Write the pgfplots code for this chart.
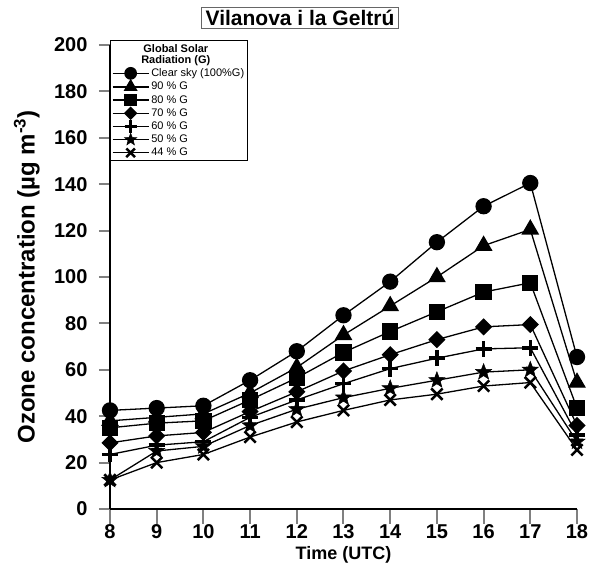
\documentclass[border=0pt]{standalone}
\usepackage{pgfplots}
\pgfplotsset{compat=1.18}
\usepackage{fontspec}
\setmainfont{Liberation Sans}
\pgfdeclareplotmark{fstar}{%
  \pgfpathmoveto{\pgfpointpolar{90}{\pgfplotmarksize}}%
  \pgfpathlineto{\pgfpointpolar{126}{0.42\pgfplotmarksize}}%
  \pgfpathlineto{\pgfpointpolar{162}{\pgfplotmarksize}}%
  \pgfpathlineto{\pgfpointpolar{198}{0.42\pgfplotmarksize}}%
  \pgfpathlineto{\pgfpointpolar{234}{\pgfplotmarksize}}%
  \pgfpathlineto{\pgfpointpolar{270}{0.42\pgfplotmarksize}}%
  \pgfpathlineto{\pgfpointpolar{306}{\pgfplotmarksize}}%
  \pgfpathlineto{\pgfpointpolar{342}{0.42\pgfplotmarksize}}%
  \pgfpathlineto{\pgfpointpolar{18}{\pgfplotmarksize}}%
  \pgfpathlineto{\pgfpointpolar{54}{0.42\pgfplotmarksize}}%
  \pgfpathclose\pgfusepathqfillstroke}
\begin{document}
\begin{tikzpicture}
\useasboundingbox (-110pt,-66pt) rectangle (480pt,509pt);
\begin{axis}[
  at={(0pt,0pt)}, anchor=south west,
  scale only axis, width=467pt, height=464pt,
  xmin=8, xmax=18, ymin=0, ymax=200,
  xtick={8,...,18}, ytick={0,20,...,200},
  axis x line*=bottom, axis y line*=left,
  axis line style={line width=2pt},
  tick align=outside,
  major tick length=11pt,
  x tick style={line width=2pt, /pgfplots/major tick length=15pt},
  y tick style={line width=2pt},
  /pgf/number format/assume math mode=true,
  ticklabel style={font=\bfseries\fontsize{20}{20}\selectfont},
  xticklabel style={yshift=-1pt},
  yticklabel style={xshift=-8pt},
  xlabel={Time (UTC)},
  ylabel={Ozone concentration (µg m\textsuperscript{-3})},
  xlabel style={font=\bfseries\fontsize{18}{18}\selectfont, at={(axis description cs:0.5,-0.099)}, anchor=center},
  ylabel style={font=\bfseries\fontsize{24}{24}\selectfont, at={(axis description cs:-0.178,0.5)}, anchor=center},
  every axis plot/.append style={black, line width=1.3pt, mark options={solid, fill=black}},
  legend style={at={(axis description cs:0,1.01)}, anchor=north west, draw=black, line width=1pt,
    font=\fontsize{11}{11}\selectfont, inner sep=1.5pt, row sep=0pt, fill=white},
  legend cell align=left,
  legend image code/.code={\draw[mark repeat=2, mark phase=2, line width=1.3pt, every mark/.append style={scale=0.76}] plot coordinates {(0pt,0pt) (18pt,0pt) (36pt,0pt)};},
]
\addlegendimage{empty legend}
\addlegendentry{\hspace*{-10pt}\bfseries\begin{tabular}[b]{@{}c@{}}Global Solar\\[-0.5pt]Radiation (G)\end{tabular}}
\addplot[mark=*, mark size=7.5pt] coordinates {(8,42.5) (9,43.5) (10,44.5) (11,55.5) (12,68) (13,83.5) (14,98) (15,115) (16,130.5) (17,140.5) (18,65.5)};
\addlegendentry{Clear sky (100\%G)}
\addplot[mark=triangle*, mark size=9pt] coordinates {(8,38) (9,39.5) (10,41) (11,50) (12,61) (13,75) (14,87.5) (15,100) (16,113.5) (17,120.5) (18,54.5)};
\addlegendentry{90 \% G}
\addplot[mark=square*, mark size=7.5pt] coordinates {(8,35) (9,37) (10,38) (11,47) (12,56.5) (13,67.5) (14,76.5) (15,85) (16,93.5) (17,97.5) (18,43.5)};
\addlegendentry{80 \% G}
\addplot[mark=square*, mark size=5.4pt, mark options={rotate=45}] coordinates {(8,28.5) (9,31.5) (10,33) (11,42) (12,50.5) (13,59.5) (14,66.5) (15,73) (16,78.5) (17,79.5) (18,36)};
\addlegendentry{70 \% G}
\addplot[mark=+, mark size=8pt, mark options={line width=3.5pt}] coordinates {(8,23.5) (9,27.5) (10,29) (11,39.5) (12,47) (13,54) (14,60.5) (15,65) (16,69) (17,69.5) (18,32)};
\addlegendentry{60 \% G}
\addplot[mark=fstar, mark size=8.5pt, mark options={line width=0.5pt}] coordinates {(8,12.5) (9,25) (10,27) (11,36) (12,43) (13,48) (14,52) (15,55.5) (16,59) (17,60) (18,29)};
\addlegendentry{50 \% G}
\addplot[mark=x, mark size=8pt, mark options={line width=2.5pt}] coordinates {(8,12.5) (9,20) (10,23.5) (11,31) (12,37.5) (13,42.5) (14,47) (15,49.5) (16,53) (17,54.5) (18,25.5)};
\addlegendentry{44 \% G}
\end{axis}
\node[draw=black!60, line width=0.8pt, inner xsep=4pt, inner ysep=3pt, font=\bfseries\fontsize{21}{21}\selectfont] at (190pt,491pt) {Vilanova i la Geltrú};
\end{tikzpicture}
\end{document}
